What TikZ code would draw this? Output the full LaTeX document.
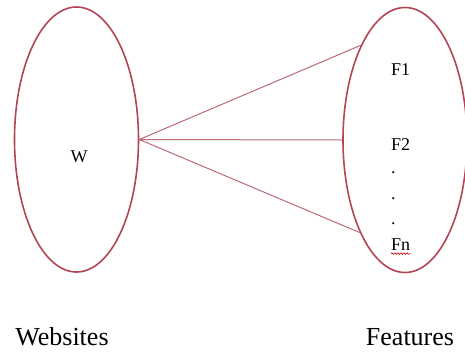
\documentclass[tikz,border=0pt]{standalone}
\usepackage{fontspec}
\setmainfont{Liberation Serif}
\usetikzlibrary{shapes.geometric,decorations.pathmorphing}
\definecolor{ellcol}{RGB}{178,68,84}
\definecolor{linecol}{RGB}{190,105,115}
\tikzset{
  setbox/.style={ellipse, draw=ellcol, line width=1.6pt, minimum width=124pt, minimum height=265pt, inner sep=0pt},
  link/.style={draw=linecol, line width=1pt},
  small/.style={font=\rmfamily\fontsize{18}{18}\selectfont, inner sep=0pt},
  big/.style={font=\rmfamily\fontsize{26}{26}\selectfont, inner sep=0pt, anchor=base},
}
\begin{document}
\begin{tikzpicture}[x=1pt,y=-1pt]
\useasboundingbox (0,0) rectangle (465,351);
\begin{scope}
\clip (0,0) rectangle (465,351);
\node[setbox] (L) at (76.5,139.5) {};
\node[setbox] (R) at (405,140) {};
\end{scope}
\node[small] (w) at (79,157) {W};
\node[small, anchor=west] (f1) at (391,70) {F1};
\node[small, anchor=west] (f2) at (391,145) {F2};
\node[small, anchor=west] (d1) at (391,173) {.};
\node[small, anchor=west] (d2) at (391,199) {.};
\node[small, anchor=west] (d3) at (391,224) {.};
\node[small, anchor=west] (fn) at (391,245) {Fn};
\draw[red!80!black, line width=0.6pt, decorate, decoration={snake, amplitude=0.8pt, segment length=3pt}] ([yshift=-2.5pt]fn.south west) -- ([yshift=-2.5pt]fn.south east);
\node[big] (web) at (62,345) {Websites};
\node[big] (feat) at (410,345) {Features};
\draw[link] (L.east) -- (R.115.5);
\draw[link] (L.east) -- (R.west);
\draw[link] (L.east) -- (R.244.5);
\end{tikzpicture}
\end{document}
